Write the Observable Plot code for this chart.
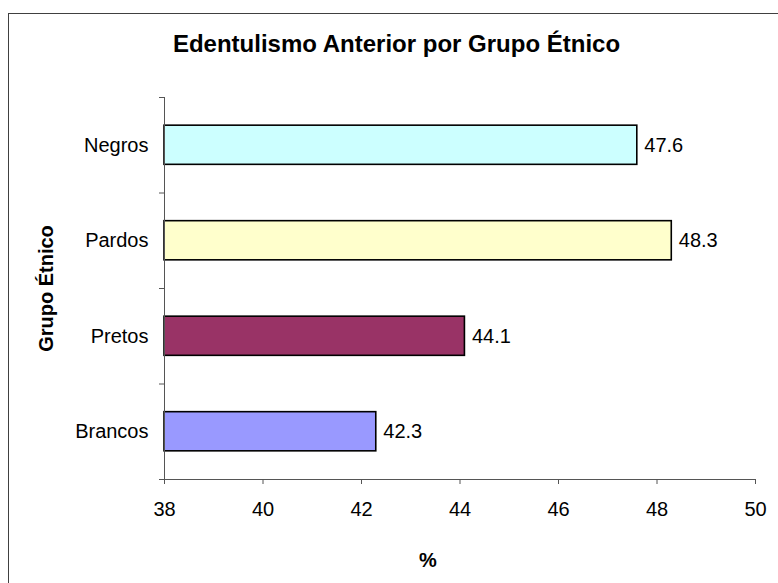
<!DOCTYPE html>
<html>
<head>
<meta charset="utf-8">
<script src="https://cdn.jsdelivr.net/npm/d3@7"></script>
<script src="https://cdn.jsdelivr.net/npm/@observablehq/plot@0.6"></script>
<style>
  html, body { margin: 0; padding: 0; background: #fff; overflow: hidden; }
  #chart { position: relative; width: 778px; height: 583px; }
  #chart .box { position: absolute; left: 8px; top: 13px; width: 820px; height: 620px; border: 1px solid #404040; box-sizing: border-box; }
  #chart svg { position: absolute; left: 0; top: 0; }
</style>
</head>
<body>
<div id="chart"><div class="box"></div></div>
<script>
// Anterior edentulism by ethnic group (%)
const groups = ["Negros", "Pardos", "Pretos", "Brancos"];
const values = [47.6, 48.3, 44.1, 42.3];
const colors = ["#CCFFFF", "#FFFFCC", "#993366", "#9999FF"];
const xTicks = [38, 40, 42, 44, 46, 48, 50];

const title = "Edentulismo Anterior por Grupo Étnico";
const yTitle = "Grupo Étnico";
const xTitle = "%";

const data = groups.map((group, i) => ({ group, value: values[i], pos: i, color: colors[i] }));
const positions = data.map(d => d.pos);
const bounds = [-0.5, ...positions.map(p => p + 0.5)];

const chart = Plot.plot({
  width: 778,
  height: 583,
  marginLeft: 164,
  marginRight: 23,
  marginTop: 97,
  marginBottom: 104,
  style: { fontFamily: "'Liberation Sans', Arial, sans-serif", fontSize: "20px", color: "#000", background: "transparent" },
  x: { domain: [xTicks[0], xTicks[xTicks.length - 1]] },
  y: { domain: [bounds[0], bounds[bounds.length - 1]], reverse: true },
  color: { type: "identity" },
  marks: [
    Plot.rectX(data, {
      x1: xTicks[0], x2: "value",
      y1: d => d.pos - 0.205, y2: d => d.pos + 0.205,
      fill: "color", stroke: "#000", strokeWidth: 1.6
    }),
    Plot.frame({ anchor: "left", stroke: "#555" }),
    Plot.frame({ anchor: "bottom", stroke: "#555" }),
    Plot.axisX({ ticks: xTicks, tickSize: 5, tickPadding: 17, stroke: "#555", label: null, tickFormat: d => String(d) }),
    Plot.axisY({ ticks: bounds, tickSize: 5, tickFormat: () => "", stroke: "#555", label: null }),
    Plot.axisY({ ticks: positions, tickSize: 0, tickPadding: 16, tickFormat: i => groups[i], label: null }),
    Plot.text(data, { x: "value", y: "pos", text: d => d.value.toFixed(1), textAnchor: "start", dx: 7 }),
    Plot.text([title], { frameAnchor: "top", textAnchor: "middle", lineAnchor: "middle", dx: -63.5, dy: -52.7, fontWeight: "bold", fontSize: 24 }),
    Plot.text([yTitle], { frameAnchor: "left", textAnchor: "middle", lineAnchor: "middle", rotate: -90, dx: -118, fontWeight: "bold", fontSize: 20 }),
    Plot.text([xTitle], { frameAnchor: "bottom", textAnchor: "middle", lineAnchor: "middle", dx: -32, dy: 81, fontWeight: "bold", fontSize: 20 })
  ]
});

document.getElementById("chart").appendChild(chart);
</script>
</body>
</html>
